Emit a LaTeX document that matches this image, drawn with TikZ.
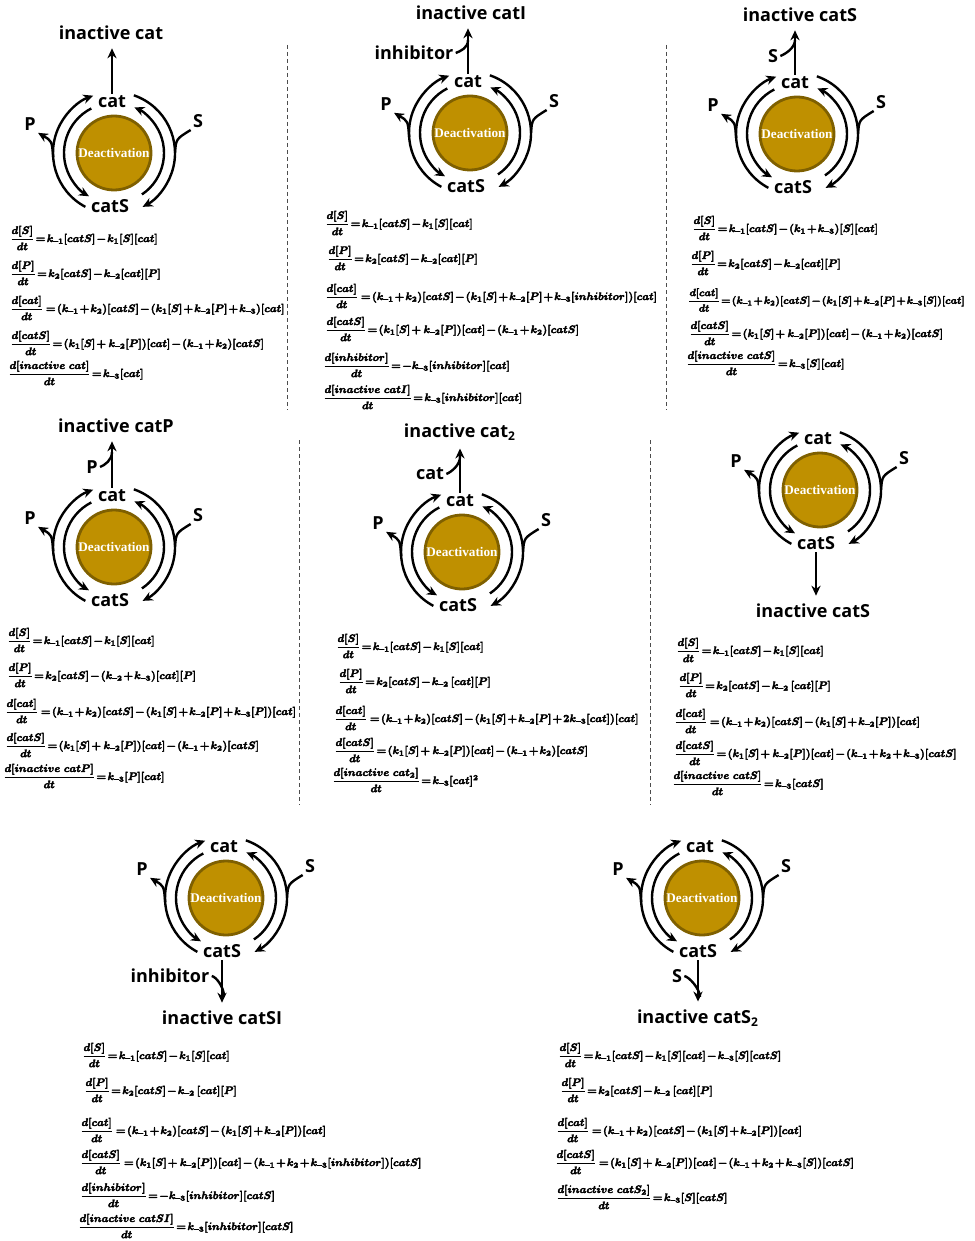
\documentclass[tikz,border=0pt]{standalone}
\usepackage{amsmath}
\usepackage{fontspec}
\setsansfont{Open Sans}
\newfontfamily\deactfont{Liberation Serif}
\usepackage{tikz}
\usetikzlibrary{arrows.meta, positioning}

\definecolor{gold}{HTML}{BF9000}
\definecolor{goldedge}{HTML}{7F6000}

% tighter spacing for the rate laws
\thickmuskip=2mu plus 1mu
\medmuskip=1.5mu plus 1mu
% short minus in the rate constants
\newcommand{\sm}{\text{\bfseries --}}
% heavy stroke for the rate laws
\newcommand{\rate}[1]{\special{pdf:literal q 2 Tr 0.35 w}$#1$\special{pdf:literal Q}}

% one catalytic cycle: #1 prefix, #2 x, #3 y
\newcommand{\catcycle}[3]{%
  \begin{scope}[shift={(#2,#3)}]
    \node[core] (#1core) at (0,0) {Deactivation};
    \node[spec] (#1cat) at (-2,51) {cat};
    \node[spec] (#1catS) at (-4,-53) {catS};
    \node[spec] (#1P) at (-84,29) {P};
    \node[spec] (#1S) at (84,32) {S};
    % binding / release arcs
    \draw[flow] (117:50) arc[start angle=117, end angle=240, radius=50];
    \draw[flow] (242:61) arc[start angle=242, end angle=110, radius=61];
    \draw[flow] (71:61) arc[start angle=71, end angle=-62, radius=61];
    \draw[flow] (-56:50) arc[start angle=-56, end angle=66, radius=50];
    % product out, substrate in
    \draw[flow] (184:61) .. controls (-62,12) .. (#1P.south east);
    \draw[link] (#1S.south west) .. controls (62,14) .. (0:61);
  \end{scope}}

\begin{document}
\begin{tikzpicture}[
    x=0.5pt, y=0.5pt,
    core/.style={
        circle,
        draw=goldedge,
        fill=gold,
        line width=1.4pt,
        minimum size=37pt,
        inner sep=0pt,
        text=white,
        font=\deactfont\bfseries\fontsize{6.6}{7}\selectfont
    },
    spec/.style={font=\sffamily\bfseries\fontsize{9}{10}\selectfont, inner sep=1pt},
    flow/.style={line width=1.2pt, -{Stealth[length=5pt, width=4.6pt]}},
    link/.style={line width=1.2pt},
    eqn/.style={anchor=west, inner sep=0pt, scale=0.54, font=\boldmath},
    sep/.style={black!70, line width=0.5pt, dash pattern=on 2pt off 1.5pt}
]
\useasboundingbox (0,0) rectangle (974,-1241);

% separators
\draw[sep] (287,-45) -- (287,-410);
\draw[sep] (666,-45) -- (666,-410);
\draw[sep] (299,-440) -- (299,-805);
\draw[sep] (650,-440) -- (650,-805);

% ---------- cat -> inactive cat
\catcycle{a}{114}{-153}
\node[spec] (aout) at (111,-33) {inactive cat};
\draw[flow, shorten >=3pt] (acat.north) -- (acat.north |- aout.south);

\node[eqn] at (10,-238) {\rate{\dfrac{d[S]}{dt} = k_{\sm1}[catS] - k_1[S][cat]}};
\node[eqn] at (10,-273) {\rate{\dfrac{d[P]}{dt} = k_2[catS] - k_{\sm2}[cat][P]}};
\node[eqn] at (10,-308) {\rate{\dfrac{d[cat]}{dt} \;= (k_{\sm1} + k_2)[catS] - (k_1[S] + k_{\sm2}[P] + k_{\sm3})[cat]}};
\node[eqn] at (10,-343) {\rate{\dfrac{d[catS]}{dt} = (k_1[S] +\; k_{\sm2}[P])[cat] - (k_{\sm1} + k_2)[catS]}};
\node[eqn] at (8,-373) {\rate{\dfrac{d[inactive\ cat]}{dt} = k_{\sm3}[cat]}};

% ---------- cat + inhibitor -> inactive catI
\catcycle{b}{470}{-133}
\node[spec] (bout) at (471,-13) {inactive catI};
\node[spec] (binh) at (414,-53) {inhibitor};
\draw[flow, shorten >=3pt] (bcat.north) -- (bcat.north |- bout.south);
\coordinate (bj) at (468,-40);
\draw[link] (binh.east) .. controls +(5,2) and +(0,-8) .. (bj);

\node[eqn] at (325,-223) {\rate{\dfrac{d[S]}{dt} = k_{\sm1}[catS] - k_1[S][cat]}};
\node[eqn] at (327,-258) {\rate{\dfrac{d[P]}{dt} = k_2[catS] - k_{\sm2}[cat][P]}};
\node[eqn] at (325,-296) {\rate{\dfrac{d[cat]}{dt} \;= (k_{\sm1} + k_2)[catS] - (k_1[S] + k_{\sm2}[P] + k_{\sm3}[inhibitor])[cat]}};
\node[eqn] at (325,-329) {\rate{\dfrac{d[catS]}{dt} = (k_1[S] +\; k_{\sm2}[P])[cat] - (k_{\sm1} + k_2)[catS]}};
\node[eqn] at (323,-365) {\rate{\dfrac{d[inhibitor]}{dt} = -k_{\sm3}[inhibitor][cat]}};
\node[eqn] at (323,-397) {\rate{\dfrac{d[inactive\ catI]}{dt} = k_{\sm3}[inhibitor][cat]}};

% ---------- cat + S -> inactive catS
\catcycle{c}{797}{-134}
\node[spec] (cout) at (800,-15) {inactive catS};
\node[spec] (cin) at (773,-56) {S};
\draw[flow, shorten >=3pt] (ccat.north) -- (ccat.north |- cout.south);
\coordinate (cj) at (795,-40);
\draw[link] (cin.east) .. controls +(5,2) and +(0,-8) .. (cj);

\node[eqn] at (692,-228) {\rate{\dfrac{d[S]}{dt} = k_{\sm1}[catS] - (k_1 + k_{\sm3})[S][cat]}};
\node[eqn] at (690,-263) {\rate{\dfrac{d[P]}{dt} = k_2[catS] - k_{\sm2}[cat][P]}};
\node[eqn, scale=0.96] at (688,-300) {\rate{\dfrac{d[cat]}{dt} = (k_{\sm1} + k_2)[catS] - (k_1[S] + k_{\sm2}[P] + k_{\sm3}[S])[cat]}};
\node[eqn] at (689,-333) {\rate{\dfrac{d[catS]}{dt} = (k_1[S] +\; k_{\sm2}[P])[cat] - (k_{\sm1} + k_2)[catS]}};
\node[eqn] at (686,-363) {\rate{\dfrac{d[inactive\ catS]}{dt} = k_{\sm3}[S][cat]}};

% ---------- cat + P -> inactive catP
\catcycle{d}{114}{-547}
\node[spec] (dout) at (116,-426) {inactive catP};
\node[spec] (din) at (92,-467) {P};
\draw[flow, shorten >=3pt] (dcat.north) -- (dcat.north |- dout.south);
\coordinate (dj) at (112,-452);
\draw[link] (din.east) .. controls +(5,2) and +(0,-8) .. (dj);

\node[eqn] at (7,-640) {\rate{\dfrac{d[S]}{dt} = k_{\sm1}[catS] - k_1[S][cat]}};
\node[eqn] at (7,-675) {\rate{\dfrac{d[P]}{dt} = k_2[catS] - (k_{\sm2} + k_{\sm3})[cat][P]}};
\node[eqn] at (5,-711) {\rate{\dfrac{d[cat]}{dt} \;= (k_{\sm1} + k_2)[catS] - (k_1[S] + k_{\sm2}[P] + k_{\sm3}[P])[cat]}};
\node[eqn] at (5,-745) {\rate{\dfrac{d[catS]}{dt} = (k_1[S] +\; k_{\sm2}[P])[cat] - (k_{\sm1} + k_2)[catS]}};
\node[eqn] at (3,-776) {\rate{\dfrac{d[inactive\ catP]}{dt} = k_{\sm3}[P][cat]}};

% ---------- cat + cat -> inactive cat2
\catcycle{e}{462}{-552}
\node[spec] (eout) at (460,-432) {inactive cat\textsubscript{2}};
\node[spec] (ein) at (430,-474) {cat};
\draw[flow, shorten >=3pt] (ecat.north) -- (ecat.north |- eout.south);
\coordinate (ej) at (460,-457);
\draw[link] (ein.east) .. controls +(5,2) and +(0,-8) .. (ej);

\node[eqn] at (336,-646) {\rate{\dfrac{d[S]}{dt} = k_{\sm1}[catS] - k_1[S][cat]}};
\node[eqn] at (338,-681) {\rate{\dfrac{d[P]}{dt} = k_2[catS] - k_{\sm2}\,[cat][P]}};
\node[eqn] at (334,-718) {\rate{\dfrac{d[cat]}{dt} \;= (k_{\sm1} + k_2)[catS] - (k_1[S] + k_{\sm2}[P] + 2k_{\sm3}[cat])[cat]}};
\node[eqn] at (334,-750) {\rate{\dfrac{d[catS]}{dt} = (k_1[S] +\; k_{\sm2}[P])[cat] - (k_{\sm1} + k_2)[catS]}};
\node[eqn] at (332,-780) {\rate{\dfrac{d[inactive\ cat_2]}{dt} = k_{\sm3}[cat]^2}};

% ---------- catS -> inactive catS
\catcycle{f}{820}{-490}
\node[spec] (fout) at (813,-611) {inactive catS};
\draw[flow, shorten >=3pt] (fcatS.south) -- (fcatS.south |- fout.north);

\node[eqn] at (676,-650) {\rate{\dfrac{d[S]}{dt} = k_{\sm1}[catS] - k_1[S][cat]}};
\node[eqn] at (678,-685) {\rate{\dfrac{d[P]}{dt} = k_2[catS] - k_{\sm2}\,[cat][P]}};
\node[eqn] at (674,-721) {\rate{\dfrac{d[cat]}{dt} \;= (k_{\sm1} + k_2)[catS] - (k_1[S] + k_{\sm2}[P])[cat]}};
\node[eqn] at (674,-753) {\rate{\dfrac{d[catS]}{dt} = (k_1[S] +\; k_{\sm2}[P])[cat] - (k_{\sm1} + k_2 + k_{\sm3})[catS]}};
\node[eqn] at (672,-783) {\rate{\dfrac{d[inactive\ catS]}{dt} = k_{\sm3}[catS]}};

% ---------- catS + inhibitor -> inactive catSI
\catcycle{g}{226}{-898}
\node[spec] (gout) at (222,-1018) {inactive catSI};
\node[spec] (ginh) at (170,-976) {inhibitor};
\draw[flow, shorten >=3pt] (gcatS.south) -- (gcatS.south |- gout.north);
\coordinate (gj) at (224,-996);
\draw[link] (ginh.east) .. controls +(5,-1) and +(0,8) .. (gj);

\node[eqn] at (82,-1055) {\rate{\dfrac{d[S]}{dt} = k_{\sm1}[catS] - k_1[S][cat]}};
\node[eqn] at (84,-1090) {\rate{\dfrac{d[P]}{dt} = k_2[catS] - k_{\sm2}\,[cat][P]}};
\node[eqn] at (80,-1130) {\rate{\dfrac{d[cat]}{dt} \;= (k_{\sm1} + k_2)[catS] - (k_1[S] + k_{\sm2}[P])[cat]}};
\node[eqn] at (80,-1162) {\rate{\dfrac{d[catS]}{dt} \;= (k_1[S] +\; k_{\sm2}[P])[cat] - (k_{\sm1} + k_2 + k_{\sm3}[inhibitor])[catS]}};
\node[eqn] at (80,-1195) {\rate{\dfrac{d[inhibitor]}{dt} = -k_{\sm3}[inhibitor][catS]}};
\node[eqn] at (78,-1226) {\rate{\dfrac{d[inactive\ catSI]}{dt} = k_{\sm3}[inhibitor][catS]}};

% ---------- catS + S -> inactive catS2
\catcycle{h}{702}{-898}
\node[spec] (hout) at (698,-1018) {inactive catS\textsubscript{2}};
\node[spec] (hin) at (677,-976) {S};
\draw[flow, shorten >=3pt] (hcatS.south) -- (hcatS.south |- hout.north);
\coordinate (hj) at (700,-997);
\draw[link] (hin.east) .. controls +(5,-1) and +(0,8) .. (hj);

\node[eqn] at (558,-1055) {\rate{\dfrac{d[S]}{dt} = k_{\sm1}[catS] - k_1[S][cat] - k_{\sm3}[S][catS]}};
\node[eqn] at (560,-1090) {\rate{\dfrac{d[P]}{dt} = k_2[catS] - k_{\sm2}\,[cat][P]}};
\node[eqn] at (556,-1130) {\rate{\dfrac{d[cat]}{dt} \;= (k_{\sm1} + k_2)[catS] - (k_1[S] + k_{\sm2}[P])[cat]}};
\node[eqn] at (555,-1162) {\rate{\dfrac{d[catS]}{dt} \;= (k_1[S] +\; k_{\sm2}[P])[cat] - (k_{\sm1} + k_2 + k_{\sm3}[S])[catS]}};
\node[eqn] at (556,-1197) {\rate{\dfrac{d[inactive\ catS_2]}{dt} = k_{\sm3}[S][catS]}};

\end{tikzpicture}
\end{document}
